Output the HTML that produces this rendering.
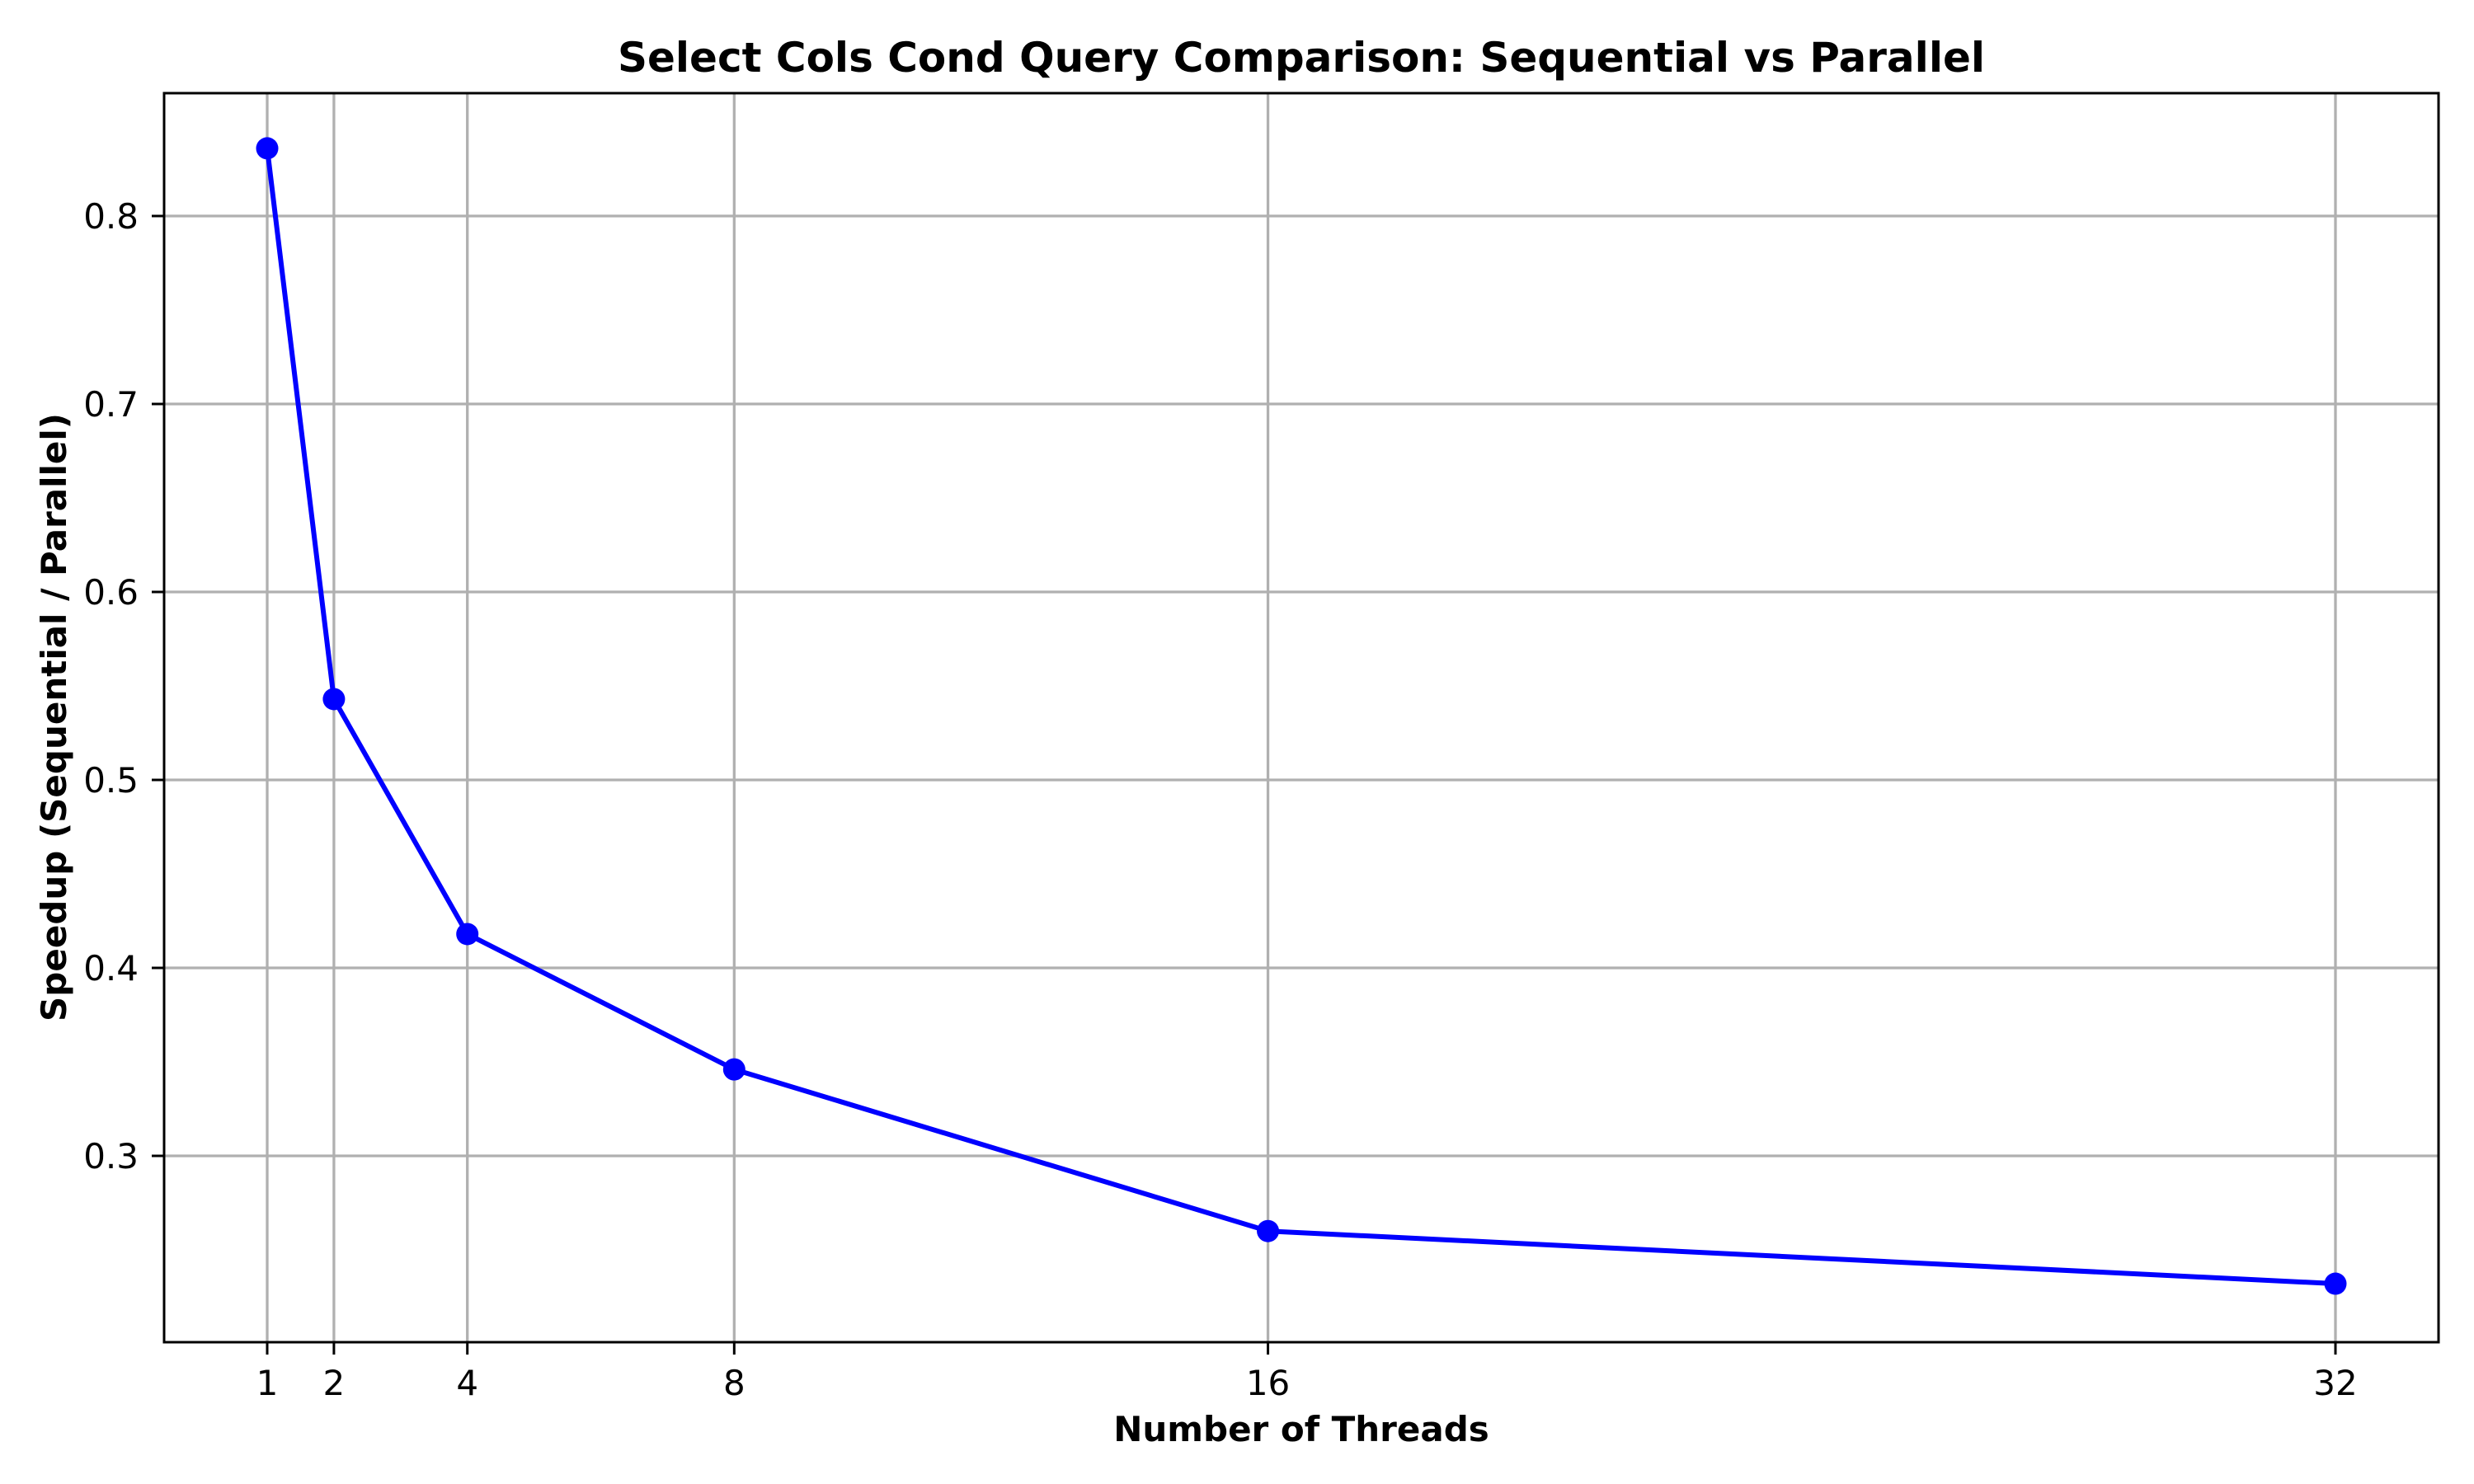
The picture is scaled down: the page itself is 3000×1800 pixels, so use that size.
<!DOCTYPE html>
<html><head><meta charset="utf-8"><style>
html,body{margin:0;padding:0;background:#fff}
svg{display:block;font-family:"DejaVu Sans","Liberation Sans",sans-serif}
</style></head><body>
<svg id="chart" width="3000" height="1800" viewBox="0 0 3000 1800">
<rect width="3000" height="1800" fill="#fff"/>
<g id="grid"></g>
<g id="ticks"></g>
<g id="series"></g>
<rect x="199" y="113" width="2758" height="1515" fill="none" stroke="#000" stroke-width="3"/>
<text x="1578" y="87" text-anchor="middle" font-size="50" font-weight="bold">Select Cols Cond Query Comparison: Sequential vs Parallel</text>
<text x="1578" y="1748" text-anchor="middle" font-size="42" font-weight="bold">Number of Threads</text>
<text transform="translate(80,870) rotate(-90)" text-anchor="middle" font-size="42" font-weight="bold">Speedup (Sequential / Parallel)</text>
</svg>
<script>
const threads = [1, 2, 4, 8, 16, 32];
const speedup = [0.836, 0.543, 0.418, 0.346, 0.260, 0.232];
const yTicks = [0.3, 0.4, 0.5, 0.6, 0.7, 0.8];
const yTickLabels = ["0.3", "0.4", "0.5", "0.6", "0.7", "0.8"];

const NS = "http://www.w3.org/2000/svg";
function xs(v){ return 324 + (v - 1) * (2832 - 324) / 31; }
function ys(v){ return 262 + (0.8 - v) * (1402 - 262) / 0.5; }
function mk(tag, attrs, parent){ const e = document.createElementNS(NS, tag); for (const k in attrs) e.setAttribute(k, attrs[k]); parent.appendChild(e); return e; }
const grid = document.getElementById('grid'), ticks = document.getElementById('ticks'), series = document.getElementById('series');

threads.forEach(t => {
  const x = xs(t);
  const g = mk('line', {x1:x, x2:x, y1:113, y2:1628, stroke:'#b0b0b0', 'stroke-width':3.3}, grid);
  
  
  const tk = mk('line', {x1:x, x2:x, y1:1628, y2:1643, stroke:'#000', 'stroke-width':3}, ticks);
  
  
  const lb = mk('text', {x:x, y:1692, 'text-anchor':'middle', 'font-size':42}, ticks);
  lb.textContent = String(t);
  
  
});
yTicks.forEach((v, i) => {
  const y = ys(v);
  const g = mk('line', {x1:199, x2:2957, y1:y, y2:y, stroke:'#b0b0b0', 'stroke-width':3.3}, grid);
  
  
  const tk = mk('line', {x1:184, x2:199, y1:y, y2:y, stroke:'#000', 'stroke-width':3}, ticks);
  
  
  const lb = mk('text', {x:168, y:y + 15, 'text-anchor':'end', 'font-size':42}, ticks);
  lb.textContent = yTickLabels[i];
  
  
});
const pts = threads.map((t, i) => xs(t) + ',' + ys(speedup[i])).join(' ');
const line = mk('polyline', {points:pts, fill:'none', stroke:'#0000ff', 'stroke-width':6, 'stroke-linejoin':'round'}, series);


threads.forEach((t, i) => {
  const c = mk('circle', {cx:xs(t), cy:ys(speedup[i]), r:13.5, fill:'#0000ff'}, series);
  
  
});
</script>
</body></html>
